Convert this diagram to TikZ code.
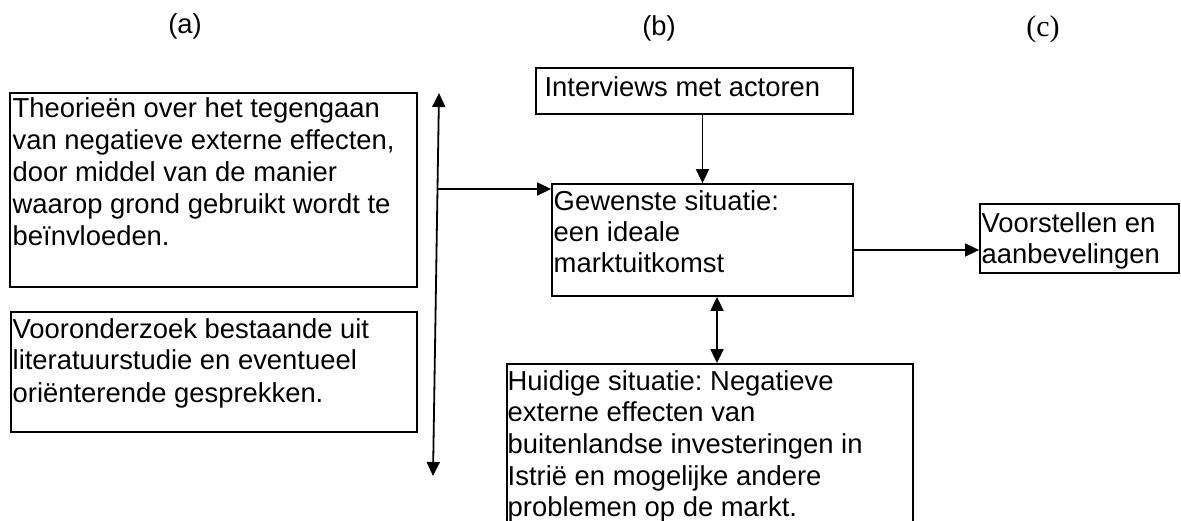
\documentclass[tikz,border=0pt]{standalone}
\usepackage{fontspec}
\setmainfont{Liberation Sans}
\newfontfamily\timesfont{Liberation Serif}
\usetikzlibrary{arrows.meta,fit}
\frenchspacing
\begin{document}
\begin{tikzpicture}[x=1pt,y=-1pt,
  box/.style={draw, line width=1.8pt, inner sep=0pt},
  txt/.style={inner sep=0pt, anchor=base west, font=\fontsize{27.4}{32}\selectfont},
  lbl/.style={inner sep=0pt, anchor=base, font=\fontsize{27.4}{32}\selectfont},
  tip/.tip={Triangle[length=14pt,width=13pt]},
  arr/.style={line width=1.8pt, -tip},
  dbl/.style={line width=1.8pt, tip-tip},
]
\useasboundingbox (0,0) rectangle (1181,521);
\clip (0,0) rectangle (1181,521);

% column labels
\node[lbl] (la) at (185,34) {(a)};
\node[lbl] (lb) at (659,36) {(b)};
\node[lbl, font=\timesfont\fontsize{30}{34}\selectfont] (lc) at (1043,37) {(c)};

% boxes
\node[box, fit={(10,93) (417,287)}] (theo) {};
\node[txt] (theoT) at (12.5,118) {\parbox[t]{400pt}{\raggedright Theorieën over het tegengaan\\van negatieve externe effecten,\\door middel van de manier\\waarop grond gebruikt wordt te\\beïnvloeden.}};

\node[box, fit={(11,312) (417,432)}] (voor0) {};
\node[txt] (voor0T) at (12.5,338) {\parbox[t]{400pt}{\raggedright Vooronderzoek bestaande uit\\literatuurstudie en eventueel\\oriënterende gesprekken.}};

\node[box, fit={(536,68) (853,114)}] (int) {};
\node[txt] (intT) at (544.4,96.7) {Interviews met actoren};

\node[box, fit={(552,184) (853,296)}] (gew) {};
\node[txt, font=\fontsize{27.4}{31}\selectfont] (gewT) at (553.5,210.7) {\parbox[t]{290pt}{\raggedright Gewenste situatie:\\een ideale\\marktuitkomst}};

\node[box, fit={(980,204) (1179,273)}] (voor) {};
\node[txt, font=\fontsize{27.4}{31.5}\selectfont] (voorT) at (981.5,232.5) {\parbox[t]{195pt}{\raggedright Voorstellen en\\aanbevelingen}};

\node[box, fit={(507,364) (913,560)}] (hui) {};
\node[txt, font=\fontsize{27.4}{31.7}\selectfont] (huiT) at (507.5,390) {\parbox[t]{400pt}{\raggedright Huidige situatie: Negatieve\\externe effecten van\\buitenlandse investeringen in\\Istrië en mogelijke andere\\problemen op de markt.}};

% connectors
\coordinate (vtop) at (439,93);
\coordinate (vbot) at (433,476);
\draw[dbl] (vbot) -- (vtop);
\coordinate (vmid) at (438,189);
\draw[arr] (vmid) -- (vmid -| gew.west);
\draw[arr] (int.south -| gew.north) -- (gew.north);
\draw[arr] ([yshift=-10pt]gew.east) -- ([yshift=-10pt]gew.east -| voor.west);
\draw[dbl] ([xshift=14.5pt]gew.south) -- ([xshift=14.5pt]gew.south |- hui.north);
\end{tikzpicture}
\end{document}
